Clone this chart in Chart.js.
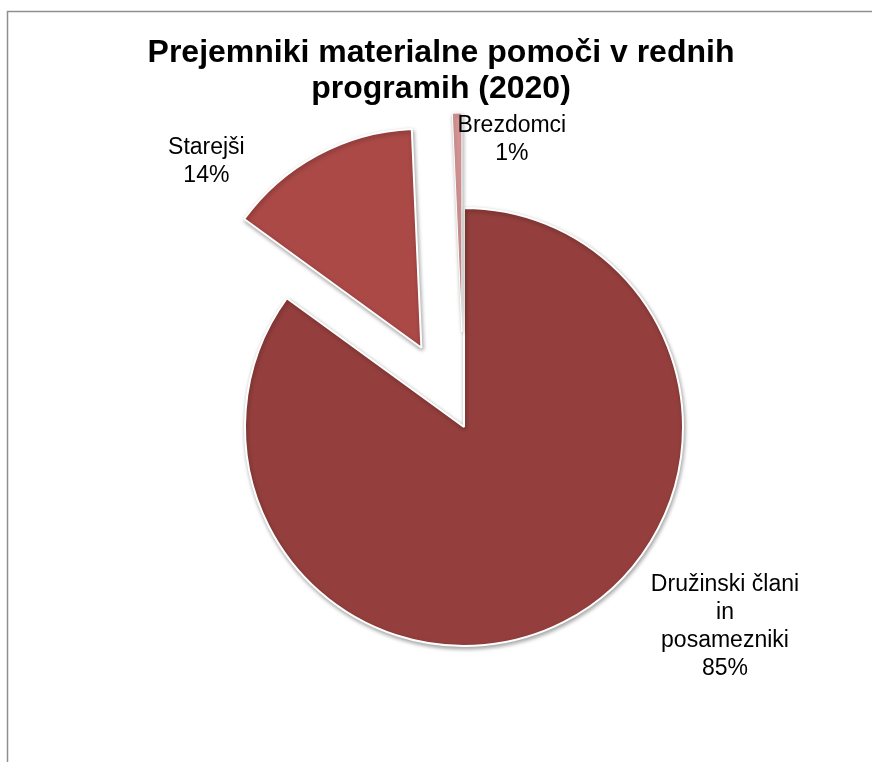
<!DOCTYPE html>
<html>
<head>
<meta charset="utf-8">
<title>Prejemniki materialne pomoči</title>
<script src="https://cdn.jsdelivr.net/npm/chart.js"></script>
<style>
  html, body { margin: 0; padding: 0; background: #fff; }
  #okvir { width: 872px; height: 762px; }
</style>
</head>
<body>
<div id="okvir"><canvas id="graf"></canvas></div>
<script>
  const naslov = ['Prejemniki materialne pomoči v rednih', 'programih (2020)'];
  const kategorije = [['Družinski člani', 'in', 'posamezniki'], ['Starejši'], ['Brezdomci']];
  const delezi = [85.0, 14.3, 0.7];
  const barve = ['#943f3d', '#ab4947', '#d69696'];

  // premik izvlečenih kosov po njihovem srednjem kotu
  const izvlek = {
    id: 'izvlek',
    afterDatasetUpdate(chart, args, opts) {
      args.meta.data.forEach((arc, i) => {
        const d = opts.razdalje[i] || 0;
        const sred = (arc.startAngle + arc.endAngle) / 2;
        arc.x += Math.cos(sred) * d;
        arc.y += Math.sin(sred) * d;
      });
    }
  };

  const senca = {
    id: 'senca',
    beforeDatasetsDraw(chart) {
      const ctx = chart.ctx;
      ctx.save();
      ctx.shadowColor = 'rgba(0,0,0,0.35)';
      ctx.shadowBlur = 4;
      ctx.shadowOffsetX = 1;
      ctx.shadowOffsetY = 2;
    },
    afterDatasetsDraw(chart) {
      chart.ctx.restore();
    }
  };

  const ozadje = {
    id: 'ozadje',
    beforeDraw(chart) {
      const ctx = chart.ctx;
      ctx.save();
      ctx.strokeStyle = '#8f8f8f';
      ctx.lineWidth = 1.5;
      ctx.strokeRect(7.5, 11.5, 920, 820);
      ctx.restore();
    },
    afterDraw(chart, args, opts) {
      const ctx = chart.ctx;
      ctx.save();
      ctx.fillStyle = '#000';
      ctx.textAlign = 'center';
      ctx.textBaseline = 'alphabetic';
      ctx.font = 'bold 32px "Liberation Sans", Arial, sans-serif';
      naslov.forEach((t, k) => ctx.fillText(t, opts.x, opts.y + k * 36));
      ctx.restore();
    }
  };

  const oznake = {
    id: 'oznake',
    afterDatasetsDraw(chart, args, opts) {
      const ctx = chart.ctx;
      const meta = chart.getDatasetMeta(0);
      const vsota = delezi.reduce((a, b) => a + b, 0);
      ctx.save();
      ctx.fillStyle = '#000';
      ctx.textAlign = 'center';
      ctx.textBaseline = 'middle';
      ctx.font = '23px "Liberation Sans", Arial, sans-serif';
      meta.data.forEach((arc, i) => {
        const vrstice = [...kategorije[i], Math.round(delezi[i] / vsota * 100) + '%'];
        const [dx, dy] = opts.zamiki[i];
        const cx = arc.x + dx, cy = arc.y + dy;
        vrstice.forEach((t, k) => {
          ctx.fillText(t, cx, cy + (k - (vrstice.length - 1) / 2) * opts.visina);
        });
      });
      ctx.restore();
    }
  };

  new Chart(document.getElementById('graf'), {
    type: 'pie',
    data: {
      labels: kategorije,
      datasets: [{
        data: delezi,
        backgroundColor: barve,
        borderColor: '#ffffff',
        borderWidth: [2, 2, 1],
        radius: 219
      }]
    },
    options: {
      responsive: true,
      maintainAspectRatio: false,
      animation: false,
      events: [],
      layout: { padding: { left: 56, right: 0, top: 92, bottom: 0 } },
      plugins: {
        legend: { display: false },
        tooltip: { enabled: false },
        title: { display: false },
        izvlek: { razdalje: [0, 90, 95] },
        ozadje: { x: 441, y: 62 },
        oznake: { visina: 28, zamiki: [[261, 200], [-215, -186], [50, -192]] }
      }
    },
    plugins: [ozadje, izvlek, senca, oznake]
  });
</script>
</body>
</html>
